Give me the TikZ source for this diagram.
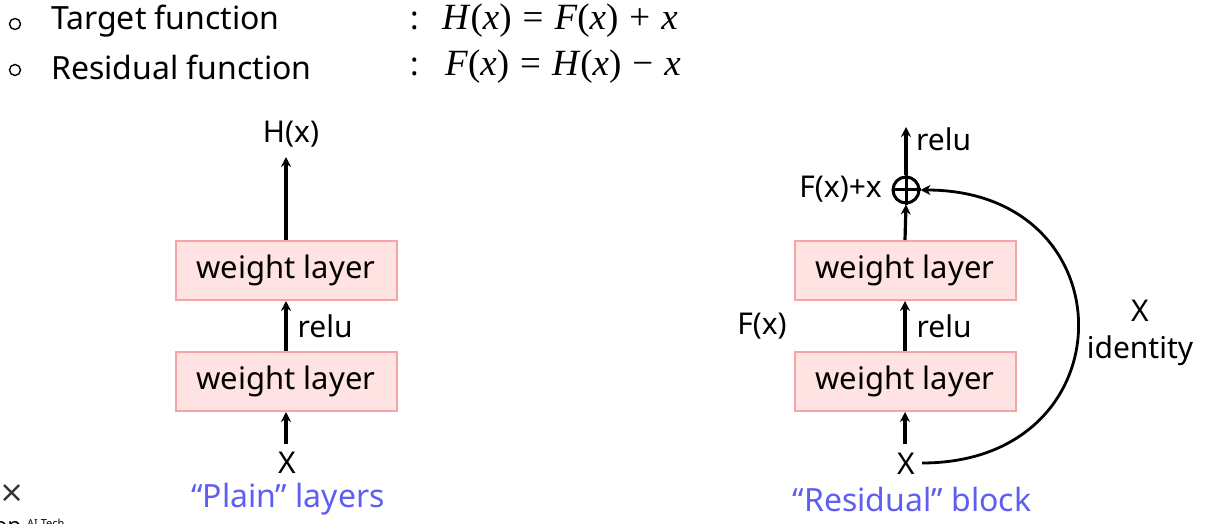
\documentclass[tikz,border=0pt]{standalone}
\usepackage{fontspec}
\setmainfont{Noto Sans}
\newfontfamily\eqfont{Liberation Serif}
\newfontfamily\crossfont{DejaVu Sans}
\usetikzlibrary{arrows.meta}
\definecolor{boxfill}{HTML}{FFE3E3}
\definecolor{boxdraw}{HTML}{F5A5A5}
\definecolor{capblue}{HTML}{5E5EF2}
\newcommand{\iv}[1]{\textit{#1}}
\newcommand{\op}[1]{\hspace{11pt}#1\hspace{11pt}}
\begin{document}
\begin{tikzpicture}[x=1pt,y=-1pt,
  txt/.style={inner sep=0pt,font=\fontsize{30}{33}\selectfont},
  head/.style={inner sep=0pt,font=\fontsize{32}{36}\selectfont},
  eq/.style={inner sep=0pt,anchor=west,font=\eqfont\fontsize{37}{40}\selectfont},
  wl/.style={draw=boxdraw,line width=2pt,fill=boxfill,minimum width=221pt,minimum height=59pt,inner sep=0pt,font=\fontsize{31}{34}\selectfont},
  captxt/.style={inner sep=0pt,text=capblue,font=\fontsize{32}{35}\selectfont},
  bullet/.style={draw,circle,line width=1.4pt,minimum size=11pt,inner sep=0pt},
  arr/.style={line width=3.2pt,-{Stealth[length=10pt,width=10pt]}},
  shortcut/.style={line width=2.8pt,-{Stealth[length=10pt,width=10pt]}}]
\clip (0,0) rectangle (1208,524);
\fill[white] (0,0) rectangle (1208,524);
% header
\node[bullet] (b1) at (15,24) {};
\node[bullet] (b2) at (15,70) {};
\node[head,anchor=west] (t1) at (51,21) {Target function};
\node[head,anchor=west] (t2) at (51,67) {Residual function};
\node[head] (c1) at (415,21) {:};
\node[head] (c2) at (415,67) {:};
\node[eq] (e1) at (442,21) {\iv{H}(\iv{x})\op{=}\iv{F}(\iv{x})\op{+}\iv{x}};
\node[eq] (e2) at (445,67) {\iv{F}(\iv{x})\op{=}\iv{H}(\iv{x})\op{−}\iv{x}};
% plain
\node[txt] (hx) at (291,134) {H(x)};
\node[wl] (p1) at (286,270.5) {weight layer};
\node[wl] (p2) at (286,381.5) {weight layer};
\node[txt] (px) at (287,463) {X};
\coordinate (phead) at (286,157);
\coordinate (pin) at (286,444);
\draw[arr] (p1.north) -- (phead);
\draw[arr] (p2.north) -- node[txt,right=10pt,pos=0.5] (prelu) {relu} (p1.south);
\draw[arr] (pin) -- (p2.south);
\node[captxt] (pcap) at (288,499) {“Plain” layers};
% residual
\node[wl] (r1) at (905,270.5) {weight layer};
\node[wl] (r2) at (905,381.5) {weight layer};
\node[draw,circle,line width=3pt,minimum size=26pt,inner sep=0pt] (plus) at (906,190) {};
\draw[line width=3pt] (plus.north) -- (plus.south) (plus.west) -- (plus.east);
\node[txt] (rx) at (906,464) {X};
\coordinate (rhead) at (906,127);
\coordinate (rin) at (905,444);
\draw[arr] (r1.north) -- (plus.south);
\draw[arr] (plus.north) -- (rhead);
\node[txt,anchor=west] (rrelu1) at (916,139) {relu};
\node[txt,anchor=east] (fxx) at (882,189) {F(x)+x};
\draw[arr] (r2.north) -- node[txt,right=10pt,pos=0.5] (rrelu) {relu} (r1.south);
\draw[arr] (rin) -- (r2.south);
\node[txt] (fx) at (762,326) {F(x)};
\coordinate (rxe) at (922,463);
\draw[shortcut] (rxe) .. controls (1130,463) and (1130,190) .. (plus.east);
\node[txt] (idx) at (1140,311) {X};
\node[txt] (idt) at (1140,351) {identity};
\node[captxt] (rcap) at (912,499) {“Residual” block};
% logo remnants
\node[inner sep=0pt,text=black!80,font=\crossfont\fontsize{30}{30}\selectfont] (times) at (12,494) {×};
\node[inner sep=0pt,anchor=west,font=\bfseries\fontsize{22}{22}\selectfont] (logo) at (-6,530) {op};
\node[inner sep=0pt,anchor=west,font=\fontsize{11}{11}\selectfont] (logo2) at (27,523) {AI Tech};
\end{tikzpicture}
\end{document}
